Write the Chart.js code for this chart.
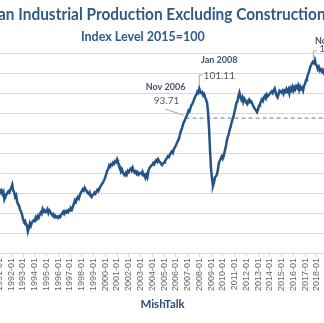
<!DOCTYPE html>
<html>
<head>
<meta charset="utf-8">
<script src="https://cdn.jsdelivr.net/npm/chart.js@4.4.1/dist/chart.umd.min.js"></script>
<style>
  html, body { margin: 0; padding: 0; background: #fff; }
  /* the reference is a crop of a wider chart, so the canvas hangs over both edges */
  #frame { position: relative; width: 324px; height: 323px; overflow: hidden; }
  #wrap { position: absolute; left: -40px; top: 0; width: 380px; height: 323px; }
</style>
</head>
<body>
<div id="frame"><div id="wrap"><canvas id="ipChart"></canvas></div></div>
<script>
const firstYear = 1991;

// monthly index, 2015=100, one row per year (1991-01 .. 2018-10)
const production = [
  76.0, 75.2, 75.6, 74.8, 75.3, 73.4, 74.0, 74.6, 75.0, 75.4, 75.1, 75.8,
  76.4, 77.1, 75.6, 75.2, 74.0, 74.4, 72.8, 72.2, 71.8, 70.8, 70.4, 69.6,
  68.4, 67.9, 68.1, 67.3, 66.9, 65.4, 66.2, 67.4, 66.8, 67.6, 67.9, 68.2,
  68.0, 68.9, 68.5, 69.2, 68.8, 69.6, 70.1, 69.8, 71.0, 70.4, 70.7, 70.2,
  70.3, 70.9, 70.0, 70.6, 70.2, 69.8, 69.4, 69.7, 69.0, 69.3, 68.9, 69.1,
  68.8, 69.2, 69.0, 69.6, 69.9, 70.3, 69.8, 70.4, 70.1, 70.5, 70.2, 70.8,
  70.6, 71.2, 70.9, 71.6, 72.4, 73.2, 72.8, 73.5, 74.0, 73.6, 74.4, 75.1,
  75.4, 75.9, 75.6, 76.3, 75.8, 75.5, 75.0, 74.8, 75.2, 74.3, 74.0, 74.5,
  74.6, 75.1, 74.8, 75.3, 75.8, 75.5, 76.1, 76.6, 77.0, 77.4, 77.8, 78.3,
  78.9, 79.8, 80.6, 81.0, 81.9, 81.6, 82.2, 82.0, 82.6, 82.3, 82.9, 82.7,
  83.4, 82.6, 82.1, 81.5, 80.4, 80.9, 80.1, 79.7, 79.4, 80.0, 79.6, 80.5,
  80.2, 80.8, 81.1, 80.6, 81.3, 80.5, 80.1, 80.4, 79.8, 80.2, 79.6, 79.9,
  80.0, 79.8, 80.3, 79.4, 79.6, 78.8, 79.5, 78.9, 80.4, 81.2, 81.5, 81.9,
  82.0, 82.5, 82.2, 82.9, 83.2, 82.8, 83.4, 82.9, 82.7, 82.3, 82.0, 82.4,
  82.6, 83.0, 83.4, 83.8, 84.2, 84.0, 84.6, 85.1, 85.4, 85.0, 85.9, 86.4,
  86.8, 87.4, 88.0, 88.4, 89.3, 90.4, 90.9, 91.8, 92.6, 93.0, 93.71, 94.2,
  94.8, 95.6, 95.4, 96.3, 97.0, 97.3, 97.9, 98.6, 99.2, 99.6, 100.3, 100.0,
  101.11, 100.4, 100.0, 100.2, 99.4, 99.7, 98.9, 98.3, 97.5, 95.2, 91.0, 85.6,
  81.0, 78.6, 76.8, 77.6, 78.9, 79.2, 79.6, 80.8, 82.5, 83.1, 83.7, 84.2,
  83.6, 84.2, 85.5, 86.4, 87.9, 89.0, 89.6, 90.8, 91.5, 92.6, 93.4, 94.2,
  95.3, 96.4, 97.6, 97.9, 99.2, 100.1, 99.0, 98.3, 98.9, 97.8, 98.6, 98.2,
  97.5, 97.2, 98.1, 98.4, 97.7, 97.9, 97.4, 96.8, 96.3, 96.0, 95.6, 95.2,
  95.9, 96.8, 97.3, 97.8, 98.4, 98.0, 98.9, 99.3, 98.7, 99.6, 99.2, 99.5,
  99.8, 100.1, 100.4, 100.0, 100.6, 101.1, 100.2, 99.3, 98.9, 99.8, 100.6, 100.4,
  100.1, 100.5, 99.8, 100.6, 100.3, 101.0, 100.4, 100.9, 99.9, 101.2, 100.7, 101.5,
  100.6, 101.4, 100.9, 101.7, 101.3, 101.9, 100.8, 101.6, 101.0, 101.3, 100.6, 101.8,
  102.3, 103.2, 103.9, 104.6, 105.3, 106.2, 106.9, 107.4, 107.8, 107.5, 108.25, 107.1,
  106.9, 106.0, 106.5, 105.6, 105.9, 105.4, 105.8, 105.1, 105.5, 105.2,
];

const months = production.map((_, i) => {
  const year = firstYear + Math.floor(i / 12);
  return `${year}-${String((i % 12) + 1).padStart(2, "0")}`;
});

const benchmarkMonth = "2006-11";
const benchmarkValue = 93.71;

const calloutMonths = ["2006-11", "2008-01", "2017-11"];
const calloutTitles = ["Nov 2006", "Jan 2008", "Nov 2017"];

const yMin = 60;
const yMax = 110;
const yStep = 5;

// offsets from the data point, in px
const calloutLayout = {
  "2006-11": { leader: [[-2, -3], [-20, -9]], title: [-20, -31], value: [-19, -17] },
  "2008-01": { leader: [[0, -3], [0, -13.5], [4, -13.5]], title: [20, -28.5], value: [20, -12.5] },
  "2017-11": { leader: [[-1.5, -2], [-1.5, -9], [2, -9]], title: [20, -19], value: [20, -11.5] },
};

const calloutPlugin = {
  id: "callouts",
  afterDatasetsDraw(chart) {
    const { ctx, scales: { x, y } } = chart;
    ctx.save();
    calloutMonths.forEach((month, n) => {
      const i = months.indexOf(month);
      const px = x.getPixelForValue(i);
      const py = y.getPixelForValue(production[i]);
      const lay = calloutLayout[month];

      ctx.strokeStyle = "#a6a6a6";
      ctx.lineWidth = 1;
      ctx.beginPath();
      lay.leader.forEach(([dx, dy], k) => {
        if (k === 0) ctx.moveTo(px + dx, py + dy);
        else ctx.lineTo(px + dx, py + dy);
      });
      ctx.stroke();

      ctx.textAlign = "center";
      ctx.textBaseline = "middle";
      ctx.fillStyle = "#44546a";
      ctx.font = "bold 9px Lato";
      ctx.fillText(calloutTitles[n], px + lay.title[0], py + lay.title[1]);
      ctx.fillStyle = "#595959";
      ctx.font = "10px Lato";
      ctx.fillText(production[i].toFixed(2), px + lay.value[0], py + lay.value[1]);
    });
    ctx.restore();
  },
};

Chart.defaults.font.family = "Lato, 'Liberation Sans', sans-serif";

new Chart(document.getElementById("ipChart"), {
  type: "line",
  data: {
    labels: months,
    datasets: [
      {
        label: "Industrial Production",
        data: production,
        borderColor: "#245487",
        borderWidth: 2.5,
        pointRadius: 0,
        tension: 0,
      },
      {
        label: "Nov 2006 level",
        data: [
          { x: benchmarkMonth, y: benchmarkValue },
          { x: months[months.length - 1], y: benchmarkValue },
        ],
        borderColor: "#8596ab",
        borderWidth: 1.4,
        borderDash: [4, 3],
        pointRadius: 0,
      },
    ],
  },
  options: {
    responsive: true,
    maintainAspectRatio: false,
    animation: false,
    layout: { padding: { left: 0, right: 14.4, top: 0, bottom: 0 } },
    plugins: {
      legend: { display: false },
      tooltip: { enabled: false },
      title: {
        display: true,
        text: "German Industrial Production Excluding Construction",
        color: "#2d5b8a",
        font: { size: 17, weight: "bold" },
        padding: { top: 4.8, bottom: 0 },
      },
      subtitle: {
        display: true,
        text: "Index Level 2015=100",
        color: "#2d5b8a",
        font: { size: 12.5, weight: "bold" },
        padding: { top: 3.8, bottom: 9 },
      },
    },
    scales: {
      x: {
        grid: { drawOnChartArea: false, drawTicks: true, tickLength: 4, color: "#d9d9d9" },
        border: { color: "#d9d9d9" },
        ticks: {
          autoSkip: false,
          minRotation: 90,
          maxRotation: 90,
          padding: 1,
          color: "#666666",
          font: { family: "'Liberation Sans', Arial, sans-serif", size: 9 },
          callback(value) {
            const label = this.getLabelForValue(value);
            return label.endsWith("-01") ? label : null;
          },
        },
        title: {
          display: true,
          text: "MishTalk",
          color: "#2f4d7a",
          font: { size: 11.5, weight: "bold" },
          padding: { top: 0, bottom: 12 },
        },
        afterFit(scale) {
          scale.height = 70;
        },
      },
      y: {
        min: yMin,
        max: yMax,
        ticks: { stepSize: yStep, color: "#595959", font: { size: 9 } },
        grid: { color: "#d9d9d9", drawTicks: false },
        border: { display: false },
        afterFit(scale) {
          scale.width = 39.5;
        },
      },
    },
  },
  plugins: [calloutPlugin],
});
</script>
</body>
</html>
